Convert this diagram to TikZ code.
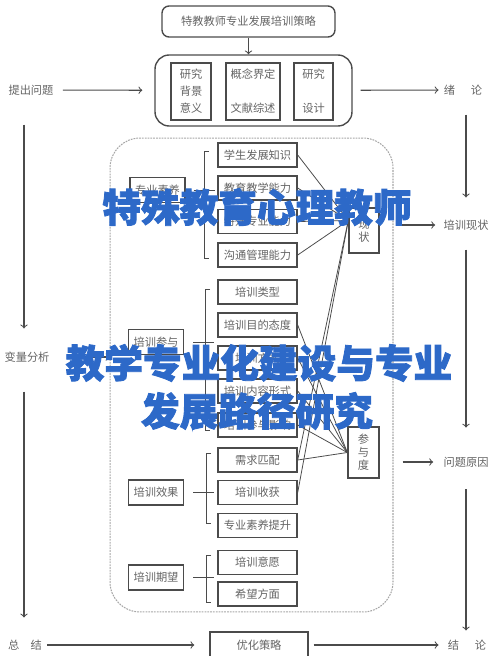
\documentclass[tikz,border=0pt]{standalone}
\usepackage{fontspec}
\newfontfamily\cjk{Noto Sans CJK SC}
\newfontfamily\cjkheavy{Noto Sans CJK SC}[BoldFeatures={FakeBold=2.2}]
\definecolor{linegray}{RGB}{75,75,75}
\definecolor{textgray}{RGB}{100,100,100}
\definecolor{titleblue}{RGB}{45,105,200}

\begin{document}
\begin{tikzpicture}[
            x = 0.02cm, y = -0.02cm,
            every node/.style = {font=\cjk\fontsize{6.4}{9.6}\selectfont, text=textgray, inner sep=0pt, align=center},
            box/.style = {draw=linegray, line width=0.8pt, minimum height=0.48cm},
            itembox/.style = {box, minimum width=1.58cm},
            catbox/.style = {box, minimum width=1.1cm, minimum height=0.5cm},
            conn/.style = {draw=linegray, line width=0.45pt},
            arr/.style = {draw=linegray, line width=0.6pt, ->},
            title/.style = {font=\cjkheavy\bfseries\fontsize{22}{26}\selectfont, text=titleblue}
        ]
        \useasboundingbox (0,0) rectangle (500,656);
        \node[box, rounded corners=4pt, minimum width=3.46cm, minimum height=0.62cm] (A1) at (248.5,21.5) {特教教师专业发展培训策略};
        \node[box, rounded corners=8pt, minimum width=3.94cm, minimum height=1.42cm] (A2) at (253.5,90.5) {};
        \node[box, minimum width=0.8cm, minimum height=1.14cm, font=\cjk\fontsize{6.4}{9.7}\selectfont] (A3) at (191,91.5) {研究\\背景\\意义};
        \node[box, minimum width=1.08cm, minimum height=1.14cm, font=\cjk\fontsize{6.4}{19.4}\selectfont] (A4) at (253,91.5) {概念界定\\文献综述};
        \node[box, minimum width=0.78cm, minimum height=1.14cm, font=\cjk\fontsize{6.4}{19.4}\selectfont] (A5) at (313.5,91.5) {研究\\设计};
        \node (L1) at (31,90) {提出问题};
        \node (L2) at (27,357) {变量分析};
        \node (L3) at (25,645) {总\hspace{1em}结};
        \node (R1) at (463,90) {绪\hspace{1.4em}论};
        \node (R2) at (466,225) {培训现状};
        \node (R3) at (466,462) {问题原因};
        \node (R4) at (467,645) {结\hspace{1.4em}论};
        \node[box, minimum width=1.96cm, minimum height=0.52cm] (O1) at (259,645) {优化策略};
        \node[draw=gray!70, dash pattern=on 1pt off 0.6pt, line width=0.6pt, rounded corners=0.6cm, minimum width=5.66cm, minimum height=9.48cm] (P1) at (251.5,375) {};
        \coordinate (V1) at (24,0);
        \coordinate (V2) at (466,0);
        \draw[arr] (A1) -- (A1 |- A2.north);
        \draw[arr, shorten <=0.18cm, shorten >=0.24cm] (L1) -- (A2);
        \draw[arr, shorten <=0.16cm, shorten >=0.1cm] (A2) -- (R1);
        \draw[arr, shorten <=0.58cm, shorten >=0.46cm] (L1.south -| V1) -- (L2.north -| V1);
        \draw[arr, shorten <=0.58cm, shorten >=0.44cm] (L2.south -| V1) -- (L3.north -| V1);
        \draw[arr, shorten <=0.38cm, shorten >=0.44cm] (R1.south -| V2) -- (R2.north -| V2);
        \draw[arr, shorten <=0.38cm, shorten >=0.58cm] (R2.south -| V2) -- (R3.north -| V2);
        \draw[arr, shorten <=0.44cm, shorten >=0.18cm] (R3.south -| V2) -- (R4.north -| V2);
        \draw[arr, shorten <=0.34cm] (L2) -- (L2 -| P1.west);
        \draw[arr, shorten <=0.14cm, shorten >=0.16cm] (R2 -| P1.east) -- (R2);
        \draw[arr, shorten <=0.18cm, shorten >=0.2cm] (R3 -| P1.east) -- (R3);
        \draw[arr, shorten <=0.1cm, shorten >=0.3cm] (L3) -- (O1);
        \draw[arr, shorten <=0.1cm, shorten >=0.18cm] (O1) -- (R4);
        \node[catbox] (B1) at (157.5,190) {专业素养};
        \node[catbox] (B2) at (156,342) {培训参与};
        \node[catbox] (B3) at (156,492.5) {培训效果};
        \node[catbox] (B4) at (156,577.5) {培训期望};
        \node[itembox] (C1) at (257.5,155) {学生发展知识};
        \node[itembox] (C2) at (257.5,188) {教育教学能力};
        \node[itembox] (C3) at (257.5,221.5) {特殊专业能力};
        \node[itembox] (C4) at (257.5,255) {沟通管理能力};
        \node[itembox] (D1) at (257.5,292) {培训类型};
        \node[itembox] (D2) at (257.5,325) {培训目的态度};
        \node[itembox] (D3) at (257.5,358) {培训方式};
        \node[itembox] (D4) at (257.5,391) {培训内容形式};
        \node[itembox] (D5) at (257.5,425) {培训参与影响};
        \node[itembox] (E1) at (257.5,460) {需求匹配};
        \node[itembox] (E2) at (257.5,492.5) {培训收获};
        \node[itembox] (E3) at (257.5,525.5) {专业素养提升};
        \node[itembox] (F1) at (257.5,562.5) {培训意愿};
        \node[itembox] (F2) at (257.5,594) {希望方面};
        \node[box, minimum width=0.6cm, minimum height=0.9cm, font=\cjk\fontsize{6.4}{7.4}\selectfont] (S1) at (364,230.5) {现\\状};
        \node[box, minimum width=0.62cm, minimum height=1.02cm, font=\cjk\fontsize{6.4}{7.4}\selectfont] (S2) at (363.5,452.5) {参\\与\\度};
        \coordinate (S1in) at ([yshift=0.2cm]S1.west);
        \draw[conn] (209,151) -- (204,151) -- (204,258) -- (209,258);
        \draw[conn] (210,289) -- (205,289) -- (205,430) -- (210,430);
        \draw[conn] (211,453) -- (206,453) -- (206,523) -- (211,523);
        \draw[conn] (211,555) -- (206,555) -- (206,602) -- (211,602);
        \draw[conn] ([xshift=0.16cm]B1.east) -- ++(21,0);
        \draw[conn] ([xshift=0.18cm]B2.east) -- ++(21,0);
        \draw[conn] ([xshift=0.18cm]B3.east) -- ++(21,0);
        \draw[conn] ([xshift=0.18cm]B4.east) -- ++(21,0);
        \foreach \n in {C1,C2,C3,C4,E1,E2} \draw[conn] (\n.east) -- (S1in);
        \foreach \n in {D2,D3,D4,D5,E1} \draw[conn] (\n.east) -- (S2.west);
        \node[title] (T1) at (257,207) {特殊教育心理教师};
        \node[title] (T2) at (259,363) {教学专业化建设与专业};
        \node[title] (T3) at (257,411) {发展路径研究};
    \end{tikzpicture}
\end{document}
